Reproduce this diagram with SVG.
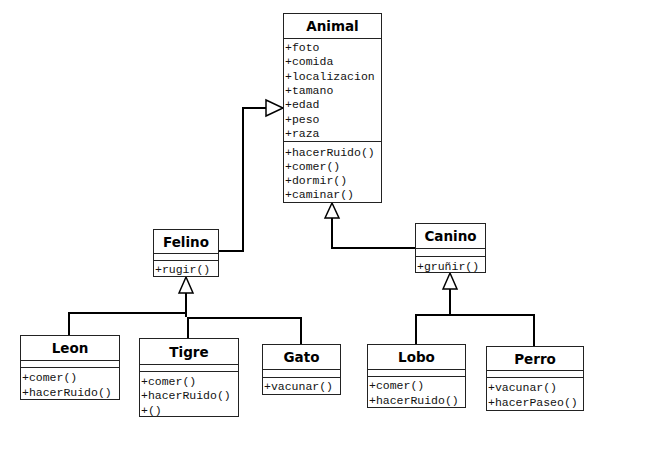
<svg xmlns="http://www.w3.org/2000/svg" width="645" height="453" viewBox="0 0 645 453">
<style>
.box{fill:#fff;stroke:#222;stroke-width:1}
.sep{stroke:#222;stroke-width:1}
.t{font-family:"DejaVu Sans",Tahoma,sans-serif;font-weight:bold;font-size:13.5px;fill:#000;text-anchor:middle}
.m{font-family:"Liberation Mono","Courier New",monospace;font-size:11.5px;fill:#111}
.ln{fill:none;stroke:#000;stroke-width:2}
.tri{fill:#fff;stroke:#000;stroke-width:1.5;stroke-linejoin:miter}
</style>
<rect width="645" height="453" fill="#fff"/>
<g id="connectors">
<path class="ln" d="M219 251 H243 V108 H266"/>
<polygon class="tri" points="266,100 283,108 266,116"/>
<path class="ln" d="M415 248 H332 V218"/>
<polygon class="tri" points="325,218 332,203 339,218"/>
<path class="ln" d="M186 293 V317"/>
<path class="ln" d="M69 335 V313 H186"/>
<path class="ln" d="M188 338 V317"/>
<path class="ln" d="M187 318 H301 V344"/>
<polygon class="tri" points="179,293 186,277 193,293"/>
<path class="ln" d="M450 289 V315"/>
<path class="ln" d="M416 344 V315 H534 V346"/>
<polygon class="tri" points="443,289 450,273 457,289"/>
</g>
<g id="Animal">
<rect class="box" x="283.5" y="13.5" width="98" height="189"/>
<line class="sep" x1="283" y1="38.5" x2="382" y2="38.5"/>
<line class="sep" x1="283" y1="141.5" x2="382" y2="141.5"/>
<text class="t" x="332.5" y="31">Animal</text>
<text class="m" x="285" y="51">+foto</text>
<text class="m" x="285" y="65.3">+comida</text>
<text class="m" x="285" y="79.6">+localizacion</text>
<text class="m" x="285" y="94">+tamano</text>
<text class="m" x="285" y="108.3">+edad</text>
<text class="m" x="285" y="122.6">+peso</text>
<text class="m" x="285" y="137">+raza</text>
<text class="m" x="285" y="155.5">+hacerRuido()</text>
<text class="m" x="285" y="169.8">+comer()</text>
<text class="m" x="285" y="184.1">+dormir()</text>
<text class="m" x="285" y="198.4">+caminar()</text>
</g>
<g id="Felino">
<rect class="box" x="153.5" y="229.5" width="65" height="47"/>
<line class="sep" x1="153" y1="253.5" x2="219" y2="253.5"/>
<line class="sep" x1="153" y1="260.5" x2="219" y2="260.5"/>
<text class="t" x="186" y="247">Felino</text>
<text class="m" x="155" y="273">+rugir()</text>
</g>
<g id="Canino">
<rect class="box" x="415.5" y="223.5" width="70" height="49"/>
<line class="sep" x1="415" y1="248.5" x2="486" y2="248.5"/>
<line class="sep" x1="415" y1="256.5" x2="486" y2="256.5"/>
<text class="t" x="450.5" y="241">Canino</text>
<text class="m" x="417" y="269.5">+gruñir()</text>
</g>
<g id="Leon">
<rect class="box" x="20.5" y="335.5" width="99" height="64"/>
<line class="sep" x1="20" y1="360.5" x2="120" y2="360.5"/>
<line class="sep" x1="20" y1="367.5" x2="120" y2="367.5"/>
<text class="t" x="70" y="353">Leon</text>
<text class="m" x="22" y="381">+comer()</text>
<text class="m" x="22" y="396">+hacerRuido()</text>
</g>
<g id="Tigre">
<rect class="box" x="139.5" y="338.5" width="99" height="78"/>
<line class="sep" x1="139" y1="364.5" x2="239" y2="364.5"/>
<line class="sep" x1="139" y1="371.5" x2="239" y2="371.5"/>
<text class="t" x="189" y="357">Tigre</text>
<text class="m" x="141" y="384.5">+comer()</text>
<text class="m" x="141" y="399">+hacerRuido()</text>
<text class="m" x="141" y="413.5">+()</text>
</g>
<g id="Gato">
<rect class="box" x="262.5" y="344.5" width="78" height="50"/>
<line class="sep" x1="262" y1="369.5" x2="341" y2="369.5"/>
<line class="sep" x1="262" y1="377.5" x2="341" y2="377.5"/>
<text class="t" x="301.5" y="362">Gato</text>
<text class="m" x="264" y="390">+vacunar()</text>
</g>
<g id="Lobo">
<rect class="box" x="367.5" y="344.5" width="98" height="63"/>
<line class="sep" x1="367" y1="369.5" x2="466" y2="369.5"/>
<line class="sep" x1="367" y1="376.5" x2="466" y2="376.5"/>
<text class="t" x="416.5" y="362">Lobo</text>
<text class="m" x="369" y="389">+comer()</text>
<text class="m" x="369" y="404">+hacerRuido()</text>
</g>
<g id="Perro">
<rect class="box" x="486.5" y="346.5" width="97" height="64"/>
<line class="sep" x1="486" y1="370.5" x2="584" y2="370.5"/>
<line class="sep" x1="486" y1="377.5" x2="584" y2="377.5"/>
<text class="t" x="535" y="364">Perro</text>
<text class="m" x="488" y="391">+vacunar()</text>
<text class="m" x="488" y="405.5">+hacerPaseo()</text>
</g>
</svg>
